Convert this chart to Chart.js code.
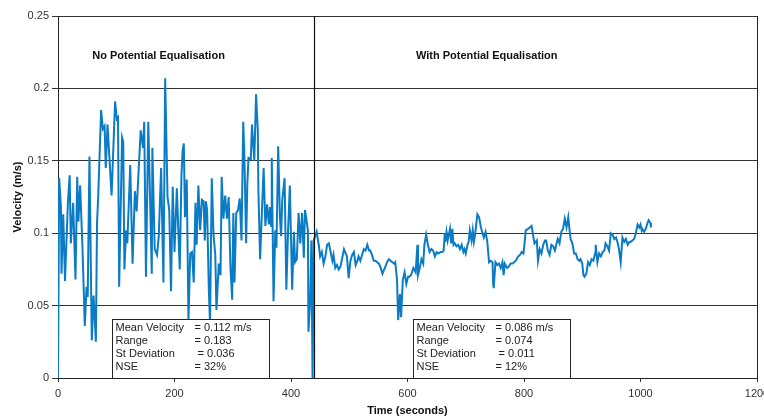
<!DOCTYPE html>
<html><head><meta charset="utf-8">
<script src="https://cdn.jsdelivr.net/npm/chart.js@4.4.0/dist/chart.umd.min.js"></script>
<style>
html,body{margin:0;padding:0;background:#fff;overflow:hidden;width:764px;height:418px;}
#wrap{position:relative;width:790px;height:418px;}
</style></head><body>
<div id="wrap"><canvas id="c"></canvas></div>
<script>
const timeSeconds = [
0,2,5,6,9,12,17,20,22,26,30,33,35,38,42,46,49,51,54,58,61,65,67,69,74,77,80,82,85,92,98,101,103,105,110,112,114,117,119,124,128,132,135,138,142,146,148,151,155,161,162,166,170,173,177,181,184,188,191,194,197,200,204,209,212,214,216,218,221,224,227,230,233,236,238,241,244,247,250,252,254,256,259,261,264,267,270,272,276,279,281,284,287,290,293,296,299,301,303,306,309,312,315,318,320,323,325,327,331,333,337,340,343,344,347,350,353,356,359,362,364,366,367,370,373,375,378,381,383,385,389,392,395,398,402,405,407,410,413,416,419,422,424,426,429,430,433,435,437,439,
444,448,450,453,456,459,462,465,468,471,473,476,479,482,485,491,493,496,499,502,505,508,511,514,516,519,522,525,528,531,534,536,539,542,545,548,551,554,557,559,562,565,568,571,574,577,579,582,584,587,589,592,595,598,601,603,606,610,614,617,618,621,624,627,629,632,635,638,641,644,647,650,653,657,660,662,664,665,667,669,673,675,677,679,681,684,687,690,693,696,698,700,703,705,707,710,712,714,716,720,723,726,728,731,734,737,740,743,746,747,748,751,754,757,760,763,765,767,771,774,777,780,783,786,790,793,796,799,801,803,807,810,813,815,818,822,824,827,830,833,836,838,841,844,847,850,853,856,858,861,864,867,870,873,876,878,880,883,886,889,892,895,897,900,902,904,907,910,913,916,919,922,923,926,929,932,935,938,940,943,946,949,952,955,958,961,963,966,969,972,975,978,981,983,986,989,992,995,998,1000,1002,1003,1006,1009,1012,1014,1017,1018
];
const velocity = [
0,0.138,0.118,0.072,0.113,0.067,0.121,0.140,0.093,0.121,0.068,0.139,0.108,0.133,0.090,0.036,0.063,0.056,0.153,0.026,0.057,0.025,0.107,0.125,0.185,0.172,0.174,0.145,0.175,0.126,0.191,0.179,0.180,0.063,0.166,0.163,0.075,0.102,0.093,0.147,0.079,0.129,0.115,0.140,0.171,0.159,0.177,0.070,0.177,0.072,0.159,0.089,0.085,0.098,0.145,0.066,0.207,0.125,0.116,0.060,0.132,0.087,0.131,0.075,0.141,0.157,0.162,0.111,0.137,0.040,0.086,0.087,0.066,0.121,0.092,0.133,0.102,0.123,0.122,0.095,0.122,0.116,0.060,0.038,0.138,0.099,0.085,0.047,0.079,0.071,0.139,0.110,0.126,0.110,0.125,0.077,0.054,0.114,0.066,0.114,0.116,0.124,0.095,0.177,0.153,0.093,0.134,0.152,0.151,0.175,0.150,0.196,0.171,0.130,0.082,0.114,0.145,0.105,0.120,0.106,0.118,0.105,0.152,0.053,0.102,0.090,0.160,0.111,0.098,0.123,0.138,0.061,0.102,0.133,0.061,0.101,0.080,0.082,0.114,0.093,0.114,0.083,0.116,0.111,0.102,0.032,0.054,0.095,0,0.095,
0.101,0.091,0.084,0.087,0.079,0.084,0.092,0.093,0.087,0.081,0.085,0.076,0.078,0.075,0.077,0.089,0.087,0.084,0.069,0.081,0.085,0.087,0.078,0.081,0.084,0.081,0.085,0.089,0.088,0.092,0.088,0.088,0.085,0.081,0.081,0.080,0.079,0.076,0.072,0.074,0.077,0.080,0.082,0.081,0.080,0.079,0.080,0.068,0.040,0.058,0.042,0.068,0.073,0.065,0.070,0.070,0.071,0.076,0.073,0.092,0.071,0.076,0.082,0.079,0.092,0.099,0.092,0.087,0.089,0.088,0.084,0.087,0.086,0.087,0.087,0.088,0.100,0.094,0.101,0.095,0.103,0.093,0.103,0.092,0.093,0.091,0.092,0.089,0.092,0.087,0.089,0.086,0.092,0.094,0.102,0.095,0.102,0.094,0.099,0.113,0.111,0.104,0.101,0.097,0.101,0.094,0.080,0.081,0.080,0.065,0.062,0.080,0.078,0.079,0.076,0.080,0.071,0.079,0.076,0.077,0.079,0.079,0.080,0.081,0.084,0.085,0.087,0.086,0.093,0.102,0.103,0.104,0.105,0.100,0.093,0.095,0.081,0.089,0.086,0.092,0.095,0.095,0.088,0.085,0.092,0.091,0.088,0.093,0.096,0.093,0.101,0.103,0.110,0.104,0.111,0.103,0.096,0.093,0.086,0.086,0.082,0.081,0.082,0.079,0.071,0.070,0.072,0.080,0.078,0.082,0.081,0.086,0.092,0.080,0.086,0.084,0.087,0.088,0.093,0.091,0.088,0.100,0.099,0.096,0.097,0.093,0.089,0.080,0.097,0.094,0.096,0.092,0.094,0.094,0.095,0.096,0.100,0.106,0.104,0.106,0.102,0.103,0.101,0.103,0.107,0.109,0.107,0.104
];
const xTickValues = [0,200,400,600,800,1000,1200];
const yTickValues = [0,0.05,0.1,0.15,0.2,0.25];
const regionTitles = ['No Potential Equalisation','With Potential Equalisation'];
const statLabels = ['Mean Velocity','Range','St Deviation','NSE'];
const statsNoPE = ['= 0.112 m/s','= 0.183',' = 0.036','= 32%'];
const statsWithPE = ['= 0.086 m/s','= 0.074',' = 0.011','= 12%'];
const switchTime = 440;

const points = timeSeconds.map((t,i)=>({x:t,y:velocity[i]}));
const FONT = '"Liberation Sans", Arial, sans-serif';

const overlay = {
  id:'overlay',
  afterDatasetsDraw(chart){
    const {ctx, chartArea:a, scales:{x,y}} = chart;
    ctx.save();
    ctx.strokeStyle='#222'; ctx.lineWidth=1;
    ctx.beginPath(); ctx.moveTo(Math.round(a.right)+0.5,a.top); ctx.lineTo(Math.round(a.right)+0.5,a.bottom); ctx.stroke();
    const sx = Math.round(x.getPixelForValue(switchTime))+0.5;
    ctx.strokeStyle='#111'; ctx.lineWidth=1.2;
    ctx.beginPath(); ctx.moveTo(sx,a.top); ctx.lineTo(sx,a.bottom); ctx.stroke();
    ctx.fillStyle='#111'; ctx.font='bold 11px '+FONT; ctx.textAlign='center'; ctx.textBaseline='middle';
    const ty = y.getPixelForValue(0.2225);
    ctx.fillText(regionTitles[0], x.getPixelForValue(172.6), ty);
    ctx.fillText(regionTitles[1], x.getPixelForValue(736), ty);
    const boxes = [{x0:93.4,x1:362.8,vals:statsNoPE},{x0:609,x1:879,vals:statsWithPE}];
    const top = Math.round(y.getPixelForValue(0.0407))+0.5;
    const bot = Math.round(a.bottom)+0.5;
    boxes.forEach(b=>{
      const l = Math.round(x.getPixelForValue(b.x0))+0.5, r = Math.round(x.getPixelForValue(b.x1))+0.5;
      ctx.fillStyle='#fff'; ctx.fillRect(l,top,r-l,bot-top);
      ctx.strokeStyle='#222'; ctx.lineWidth=1; ctx.strokeRect(l,top,r-l,bot-top);
      ctx.fillStyle='#222'; ctx.font='11px '+FONT; ctx.textAlign='left'; ctx.textBaseline='middle';
      statLabels.forEach((s,i)=>{
        const yy = top + 8 + i*13.3;
        ctx.fillText(s, l+3, yy);
        ctx.fillText(b.vals[i], l+82, yy);
      });
    });
    ctx.restore();
  }
};

new Chart(document.getElementById('c'), {
  type:'line',
  data:{datasets:[{data:points, borderColor:'#0a7bc4', borderWidth:2, pointRadius:0, tension:0, fill:false}]},
  options:{
    responsive:true, maintainAspectRatio:false, animation:false,
    layout:{padding:{top:16,right:33,left:0,bottom:0}},
    plugins:{legend:{display:false}, tooltip:{enabled:false}},
    scales:{
      x:{type:'linear', min:0, max:1200,
        afterBuildTicks: s => { s.ticks = xTickValues.map(v=>({value:v})); },
        ticks:{color:'#333', font:{family:FONT,size:11}, padding:5, maxRotation:0, autoSkip:false, callback:v=>String(v)},
        grid:{drawOnChartArea:false, drawTicks:true, tickLength:4, color:'#333'},
        border:{color:'#222', width:1},
        title:{display:true, text:'Time (seconds)', color:'#111', font:{family:FONT,size:11,weight:'bold'}, padding:{top:0,bottom:0}},
        afterFit: s => { s.height = 40; }
      },
      y:{min:0, max:0.25,
        afterBuildTicks: s => { s.ticks = yTickValues.map(v=>({value:v})); },
        ticks:{color:'#333', font:{family:FONT,size:11}, padding:3, callback:v=>String(Number(v.toFixed(2)))},
        grid:{color:'#333', lineWidth:1, tickLength:6},
        border:{color:'#222', width:1},
        title:{display:true, text:'Velocity (m/s)', color:'#111', font:{family:FONT,size:11,weight:'bold'}, padding:{top:11,bottom:0}},
        afterFit: s => { s.width = 58; }
      }
    }
  },
  plugins:[overlay]
});
</script>
</body></html>
